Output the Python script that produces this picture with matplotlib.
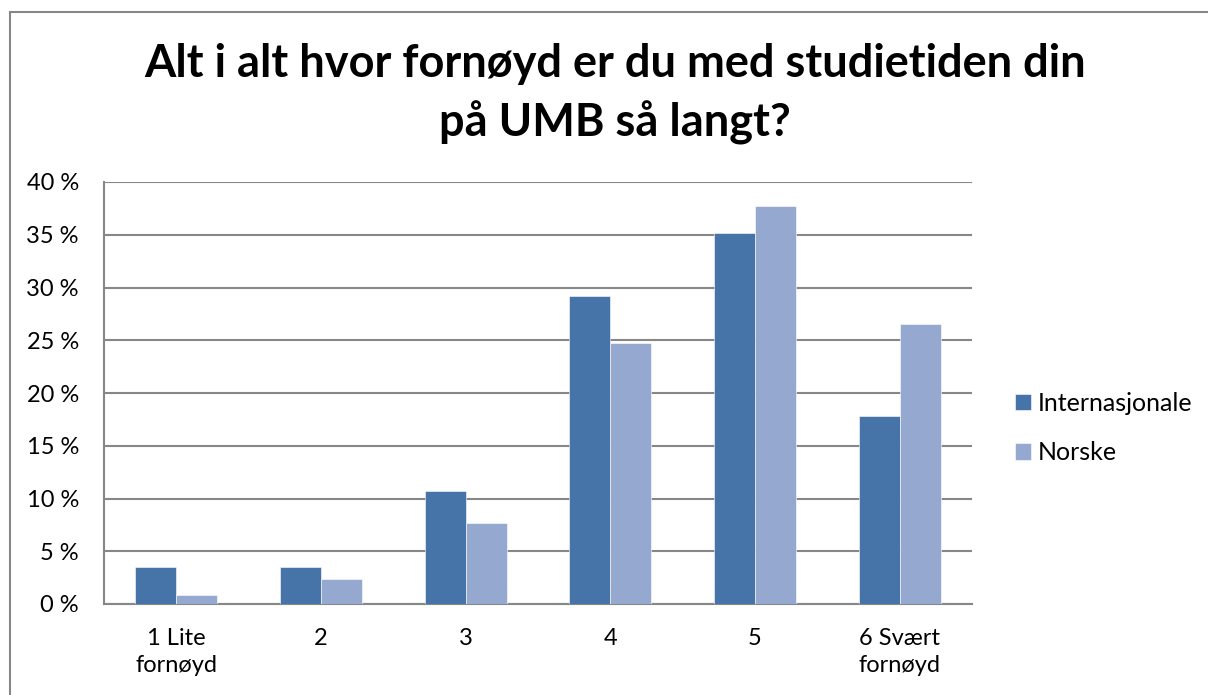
import numpy as np
import matplotlib
matplotlib.use("Agg")
import matplotlib.pyplot as plt
from matplotlib.patches import Rectangle
from matplotlib.ticker import FuncFormatter

# data
kategorier = ["1 Lite\nfornøyd", "2", "3", "4", "5", "6 Svært\nfornøyd"]
internasjonale = [3.55, 3.55, 10.7, 29.15, 35.15, 17.85]
norske = [0.9, 2.35, 7.7, 24.7, 37.75, 26.5]
serier = ["Internasjonale", "Norske"]
farger = ["#4673A8", "#95A9D0"]

plt.rcParams['font.family'] = ['Lato', 'DejaVu Sans']

fig = plt.figure(figsize=(12.08, 6.95), dpi=100)
ax = fig.add_axes([104 / 1208, 91 / 695, 868 / 1208, 422 / 695])

x = np.arange(len(kategorier))
b = 0.283
s1 = ax.bar(x - b / 2, internasjonale, b, color=farger[0], edgecolor="white", linewidth=0.4, label=serier[0], zorder=3)
s2 = ax.bar(x + b / 2, norske, b, color=farger[1], edgecolor="white", linewidth=0.4, label=serier[1], zorder=3)

ax.set_xlim(-0.5, len(kategorier) - 0.5)
ax.set_ylim(0, 40)
ax.set_yticks(range(0, 41, 5))
ax.yaxis.set_major_formatter(FuncFormatter(lambda v, p: f"{v:.0f} %"))
ax.set_xticks(x)
ax.set_xticklabels(kategorier, fontsize=17, linespacing=1.4)
ax.tick_params(axis='y', labelsize=17, length=0, pad=18)
ax.tick_params(axis='x', length=0, pad=17)
ax.grid(axis='y', color="#878787", linewidth=1.5, zorder=0)
for side in ["top", "right"]:
    ax.spines[side].set_visible(False)
for side in ["left", "bottom"]:
    ax.spines[side].set_color("#878787")
    ax.spines[side].set_linewidth(1.5)

fig.text(0.509, 1 - 94 / 695, "Alt i alt hvor fornøyd er du med studietiden din\npå UMB så langt?",
         ha="center", va="center", fontsize=32.5, fontweight="bold", linespacing=1.42)

fig.legend(handles=[s1, s2], loc="center left", bbox_to_anchor=(992 / 1208, 1 - 428 / 695),
           frameon=False, fontsize=18, handlelength=0.65, handleheight=0.65,
           handletextpad=0.3, labelspacing=1.05)

fig.patches.append(Rectangle((10 / 1208, -0.05), 1.1, 1 - 12 / 695 + 0.05,
                             transform=fig.transFigure, fill=False,
                             edgecolor="#878787", linewidth=1.5))

fig.savefig("out.png", dpi=100, facecolor="white")
